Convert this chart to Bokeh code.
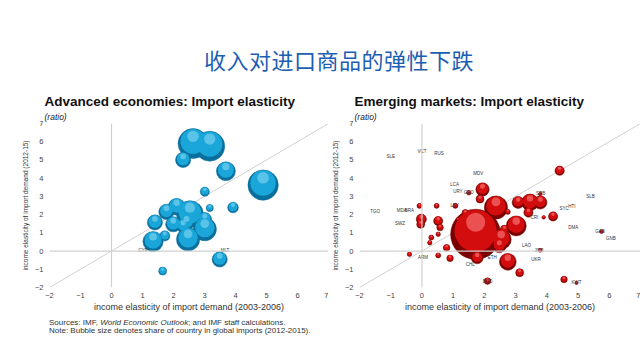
from bokeh.plotting import figure
from bokeh.models import Div, Title, Span, Range1d, FixedTicker
from bokeh.layouts import column, row
from bokeh.embed import file_html
from bokeh.resources import INLINE
from bokeh.core.properties import value
import numpy as np

# ---------------- data ----------------
main_title = "收入对进口商品的弹性下跌"
left_title = "Advanced economies: Import elasticity"
right_title = "Emerging markets: Import elasticity"
subtitle = "(ratio)"
x_label = "income elasticity of import demand (2003-2006)"
y_label = "income elasticity of import demand (2012-15)"
tick_values = [-2, -1, 0, 1, 2, 3, 4, 5, 6, 7]

# advanced economies: x = elasticity 2003-06, y = elasticity 2012-15, share of global imports
adv_x = [2.63, 3.17, 2.31, 3.69, 4.89, 3.01, 3.92, 3.17, 2.10, 1.77, 2.53, 3.01, 1.40, 1.99, 2.42, 3.01, 2.31, 1.72, 1.34, 2.47, 3.49, 1.65]
adv_y = [5.90, 5.75, 5.00, 4.38, 3.62, 3.26, 2.39, 2.36, 2.43, 2.15, 2.03, 1.75, 1.57, 1.47, 1.57, 1.20, 1.38, 0.83, 0.52, 0.64, -0.46, -1.10]
adv_share = [3.5, 3.5, 0.9, 1.4, 3.6, 0.33, 0.45, 0.2, 1.1, 0.9, 2.8, 0.7, 0.9, 0.9, 0.9, 2.1, 0.7, 0.4, 1.6, 2.1, 0.9, 0.25]
adv_lab_text = ["CYP", "MLT"]
adv_lab_x = [1.02, 3.66]
adv_lab_y = [0.05, 0.05]

# emerging markets
em_x = [4.41, 1.94, 1.86, 2.37, 2.75, 3.08, 3.46, 3.79, 3.41, 4.20, 3.02, 2.64, 1.72, 2.54, 2.48, 1.77, 2.75, 3.13, 2.10, 4.55,
        -0.08, 0.47, 1.07, 1.39, -0.02, -0.04, 0.52, 0.58, 0.30, 0.25, 0.52, 0.79, -0.40, 0.52, 0.90, 3.79, 5.75, 3.79, 1.50, 1.15, 3.90, 4.95]
em_y = [4.41, 3.38, 2.85, 2.39, 2.15, 2.67, 2.67, 2.67, 2.11, 1.90, 1.38, 1.20, 0.92, 0.64, 0.28, -0.37, -0.59, -1.19, -1.65, -1.56,
        2.48, 2.48, 2.48, 2.10, 1.75, 1.47, 1.65, 1.29, 0.74, 0.46, 0.92, 0.18, -0.18, -0.24, -0.40, 3.13, 1.07, 0.04, 3.20, 1.75, 1.85, -1.75]
em_share = [0.34, 0.69, 0.25, 2.1, 0.1, 0.56, 1.1, 0.69, 0.33, 0.33, 1.56, 0.25, 9.8, 1.56, 0.69, 0.56, 1.1, 0.25, 0.17, 0.17,
            0.1, 0.1, 0.1, 0.17, 0.4, 0.25, 0.33, 0.17, 0.1, 0.08, 0.08, 0.17, 0.08, 0.1, 0.17, 0.05, 0.06, 0.06, 0.08, 0.05, 0.05, 0.04]
em_lab_text = ["SLE", "VCT", "RUS", "MDV", "LCA", "URY", "GEO", "SRB", "SLB", "SYC", "HTI", "TGO", "MDA", "BRA", "SWZ",
               "LBY", "DMA", "GAB", "GNB", "LAO", "JOR", "UKR", "ETH", "CHL", "BGD", "KWT", "ARM", "CRI"]
em_lab_x = [-1.00, 0.00, 0.55, 1.80, 1.05, 1.15, 1.50, 3.80, 5.40, 4.55, 4.80, -1.50, -0.65, -0.40, -0.70,
            1.05, 4.85, 5.70, 6.05, 3.35, 3.75, 3.65, 2.25, 1.55, 2.10, 4.95, 0.03, 3.60]
em_lab_y = [5.20, 5.45, 5.35, 4.25, 3.65, 3.28, 3.20, 3.15, 3.00, 2.35, 2.45, 2.15, 2.20, 2.22, 1.50,
            2.50, 1.30, 1.10, 0.70, 0.30, 0.05, -0.45, -0.35, -0.75, -1.65, -1.75, -0.37, 1.84]

FONT = "Liberation Sans"


def make_panel(title, xs, ys, shares, lab_text, lab_x, lab_y, colors, width, border_left, border_right):
    p = figure(width=width, height=239, output_backend="svg", toolbar_location=None,
               x_range=Range1d(-2, 7), y_range=Range1d(-2, 7),
               min_border_left=border_left, min_border_right=border_right,
               min_border_top=45, min_border_bottom=30)
    p.background_fill_color = "white"
    p.border_fill_color = "white"
    p.outline_line_color = None
    p.grid.visible = False
    p.add_layout(Title(text=subtitle, text_font=FONT, text_font_style="italic",
                       text_font_size="8.5px", text_color="#222", standoff=3, offset=-5), "above")
    p.add_layout(Title(text=title, text_font=FONT, text_font_style="bold",
                       text_font_size="13.5px", text_color="#111", standoff=0, offset=-5), "above")
    for ax in (p.xaxis[0], p.yaxis[0]):
        ax.ticker = FixedTicker(ticks=tick_values)
        ax.axis_line_color = None
        ax.major_tick_line_color = None
        ax.minor_tick_line_color = None
        ax.major_tick_out = 0
        ax.major_tick_in = 0
        ax.minor_tick_out = 0
        ax.minor_tick_in = 0
        ax.major_label_text_font = FONT
        ax.major_label_text_font_size = "7.5px"
        ax.major_label_text_color = "#444"
        ax.axis_label_text_font = FONT
        ax.axis_label_text_font_style = "normal"
        ax.axis_label_text_color = "#333"
    p.xaxis.axis_label = x_label
    p.xaxis.axis_label_text_font_size = "9px"
    p.xaxis.major_label_standoff = 5
    p.xaxis.axis_label_standoff = 1
    p.yaxis.axis_label = y_label
    p.yaxis.axis_label_text_font_size = "6.5px"
    p.yaxis.major_label_standoff = 6
    p.yaxis.axis_label_standoff = 3

    # reference lines
    p.add_layout(Span(location=0, dimension="height", line_color="#d0d0d0", line_width=1.2))
    p.add_layout(Span(location=0, dimension="width", line_color="#d0d0d0", line_width=1.2))
    p.line([-2, 7], [-2, 7], line_color="#d0d0d0", line_width=1)

    # bubbles (area proportional to share)
    xs = np.array(xs, dtype=float)
    ys = np.array(ys, dtype=float)
    d = 16.0 * np.sqrt(np.array(shares, dtype=float))
    order = np.argsort(-d)
    xs, ys, d = xs[order], ys[order], d[order]
    px_per_y = 164.0 / 9.0
    dark, mid, light = colors
    p.scatter(xs, ys, size=d, marker="circle", fill_color=dark, line_color=dark, line_width=0.5)
    p.scatter(xs, ys + 0.07 * d / px_per_y, size=0.84 * d, marker="circle", fill_color=mid, line_color=None)
    p.scatter(xs, ys + 0.24 * d / px_per_y, size=0.38 * d, marker="circle", fill_color=light,
              fill_alpha=0.55, line_color=None)

    p.text(lab_x, lab_y, text=lab_text, text_font=value(FONT), text_font_size="4.5px",
           text_color="#333", text_align="center", text_baseline="middle")
    return p


pL = make_panel(left_title, adv_x, adv_y, adv_share, adv_lab_text, adv_lab_x, adv_lab_y,
                ("#0a6f9c", "#1aa6d8", "#8fdcf5"), 328, 49, 0)
pR = make_panel(right_title, em_x, em_y, em_share, em_lab_text, em_lab_x, em_lab_y,
                ("#7a0000", "#d30d0d", "#ff8a8a"), 312, 31, 0)

title_div = Div(width=640, height=78, margin=0,
                text=f'<div style="padding-top:46px;padding-left:204px;font-family:\'Noto Sans CJK SC\';'
                     f'font-size:22px;letter-spacing:0.5px;color:#1c5eb2;line-height:26px;white-space:nowrap;">{main_title}</div>')
notes_div = Div(width=640, height=30, margin=0,
                text='<div style="padding-top:2px;padding-left:49px;font-family:\'Liberation Sans\';font-size:8px;'
                     'line-height:8px;color:#333;white-space:nowrap;">'
                     'Sources: IMF, <i>World Economic Outlook</i>; and IMF staff calculations.<br>'
                     'Note: Bubble size denotes share of country in global imports (2012-2015).</div>')

layout = column(title_div, row(pL, pR), notes_div)
open("out.html", "w").write(file_html(layout, INLINE))
